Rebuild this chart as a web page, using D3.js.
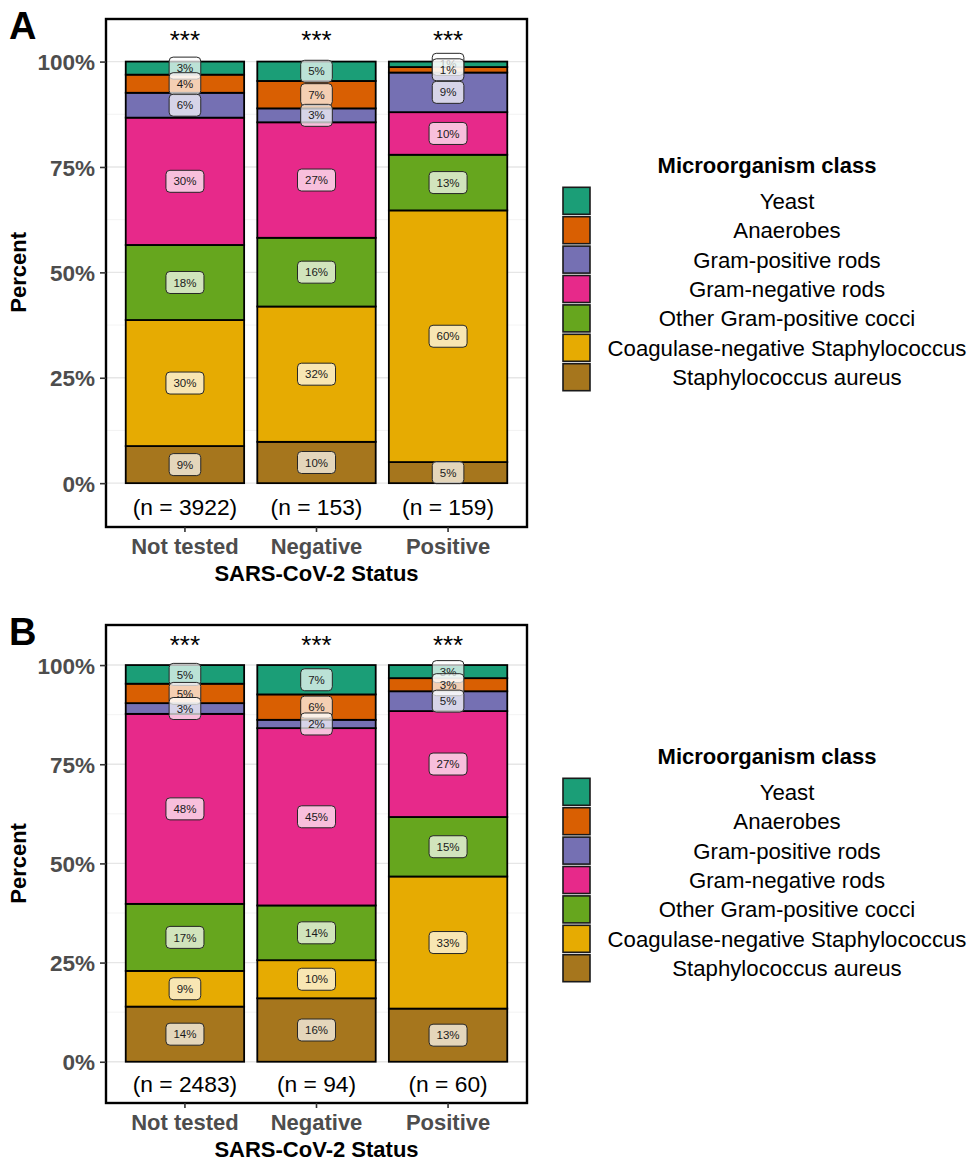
<!DOCTYPE html>
<html>
<head>
<meta charset="utf-8">
<script src="https://cdn.jsdelivr.net/npm/d3@7"></script>
<style>
  body { margin: 0; background: #fff; }
  svg { display: block; font-family: "Liberation Sans", Arial, Helvetica, sans-serif; }
</style>
</head>
<body>
<svg id="chart" width="972" height="1162"></svg>
<script>
// ---- data ----
const statuses = ["Not tested", "Negative", "Positive"];
const organismClasses = [
  "Yeast",
  "Anaerobes",
  "Gram-positive rods",
  "Gram-negative rods",
  "Other Gram-positive cocci",
  "Coagulase-negative Staphylococcus",
  "Staphylococcus aureus"
];
const classColors = ["#1B9E77", "#D95F02", "#7570B3", "#E7298A", "#66A61E", "#E6AB02", "#A6761D"];
const yTickValues = [0, 0.25, 0.5, 0.75, 1];
const yTickLabels = ["0%", "25%", "50%", "75%", "100%"];

// Panel A: percent of isolates per class, by SARS-CoV-2 status
const yeastA     = [3.1, 4.6, 1.3];
const anaerobesA = [4.3, 6.5, 1.3];
const gprA       = [5.9, 3.3, 9.4];
const gnrA       = [30.2, 27.4, 10.1];
const ogpcA      = [17.8, 16.3, 13.2];
const consA      = [29.9, 32.1, 59.7];
const aureusA    = [8.8, 9.8, 5.0];
const countsA    = [3922, 153, 159];
const signifA    = ["***", "***", "***"];

// Panel B
const yeastB     = [4.7, 7.4, 3.3];
const anaerobesB = [4.9, 6.4, 3.3];
const gprB       = [2.7, 2.1, 5.0];
const gnrB       = [47.9, 44.7, 26.7];
const ogpcB      = [16.9, 13.8, 15.0];
const consB      = [9.0, 9.6, 33.3];
const aureusB    = [13.9, 16.0, 13.4];
const countsB    = [2483, 94, 60];
const signifB    = ["***", "***", "***"];

const panels = [
  { letter: "A", values: [yeastA, anaerobesA, gprA, gnrA, ogpcA, consA, aureusA],
    counts: countsA, signif: signifA, top: 19, bottom: 527 },
  { letter: "B", values: [yeastB, anaerobesB, gprB, gnrB, ogpcB, consB, aureusB],
    counts: countsB, signif: signifB, top: 625, bottom: 1103 }
];

// ---- drawing ----
const svg = d3.select("#chart");
const color = d3.scaleOrdinal().domain(organismClasses).range(classColors);
const plotLeft = 106, plotRight = 527;

function drawPanel(p) {
  const g = svg.append("g");
  const x = d3.scaleBand().domain(statuses).range([plotLeft, plotRight])
    .paddingInner(0.1).paddingOuter(0.15);
  const y = d3.scaleLinear().domain([-0.104, 1.101]).range([p.bottom, p.top]);

  // grid
  const minor = [0.125, 0.375, 0.625, 0.875];
  g.selectAll(".minor").data(minor).join("line")
    .attr("x1", plotLeft).attr("x2", plotRight)
    .attr("y1", d => y(d)).attr("y2", d => y(d))
    .attr("stroke", "#f0f0f0").attr("stroke-width", 0.8);
  g.selectAll(".major").data(yTickValues).join("line")
    .attr("x1", plotLeft).attr("x2", plotRight)
    .attr("y1", d => y(d)).attr("y2", d => y(d))
    .attr("stroke", "#e6e6e6").attr("stroke-width", 1.4);

  // stacked bars
  const rows = statuses.map((s, i) => {
    const r = { status: s };
    organismClasses.forEach((c, k) => { r[c] = p.values[k][i] / 100; });
    return r;
  });
  const series = d3.stack().keys(organismClasses.slice().reverse())(rows);

  g.selectAll(".layer").data(series).join("g")
    .attr("fill", d => color(d.key))
    .selectAll("rect").data(d => d).join("rect")
      .attr("x", d => x(d.data.status))
      .attr("width", x.bandwidth())
      .attr("y", d => y(d[1]))
      .attr("height", d => y(d[0]) - y(d[1]))
      .attr("stroke", "#000").attr("stroke-width", 1.8);

  // value labels, drawn from the top class down
  const labelLayer = g.append("g");
  series.slice().reverse().forEach(layer => {
    layer.forEach(d => {
      const v = d[1] - d[0];
      const cx = x(d.data.status) + x.bandwidth() / 2;
      const cy = y((d[0] + d[1]) / 2);
      const lg = labelLayer.append("g").attr("transform", `translate(${cx},${cy})`);
      const rect = lg.append("rect");
      const t = lg.append("text")
        .attr("text-anchor", "middle").attr("dy", "0.36em")
        .attr("font-size", 11.5).attr("fill", "#1a1a1a")
        .text(Math.round(v * 100) + "%");
      const w = t.node().getComputedTextLength() + 15;
      const h = 22;
      rect.attr("x", -w / 2).attr("y", -h / 2).attr("width", w).attr("height", h)
        .attr("rx", 4).attr("ry", 4)
        .attr("fill", "#fff").attr("fill-opacity", 0.7)
        .attr("stroke", "#262626").attr("stroke-width", 1);
    });
  });

  // significance marks and sample sizes
  g.selectAll(".sig").data(statuses).join("text")
    .attr("x", d => x(d) + x.bandwidth() / 2).attr("y", y(1.063))
    .attr("dy", "0.55em").attr("text-anchor", "middle")
    .attr("font-size", 26).attr("fill", "#000")
    .text((d, i) => p.signif[i]);
  g.selectAll(".n").data(statuses).join("text")
    .attr("x", d => x(d) + x.bandwidth() / 2).attr("y", y(-0.055))
    .attr("dy", "0.36em").attr("text-anchor", "middle")
    .attr("font-size", 22.8).attr("fill", "#000")
    .text((d, i) => `(n = ${p.counts[i]})`);

  // frame
  g.append("rect")
    .attr("x", plotLeft).attr("y", p.top)
    .attr("width", plotRight - plotLeft).attr("height", p.bottom - p.top)
    .attr("fill", "none").attr("stroke", "#000").attr("stroke-width", 2.4);

  // axes
  const ya = g.append("g").attr("transform", `translate(${plotLeft},0)`)
    .call(d3.axisLeft(y).tickValues(yTickValues)
      .tickFormat((d, i) => yTickLabels[i]).tickSize(6).tickPadding(5));
  ya.select(".domain").remove();
  ya.selectAll("line").attr("stroke", "#333").attr("stroke-width", 1.6);
  ya.selectAll("text").attr("font-size", 22.5).attr("font-weight", "bold")
    .attr("fill", "#4d4d4d").attr("font-family", null).attr("dy", "0.36em");

  const xa = g.append("g").attr("transform", `translate(0,${p.bottom})`)
    .call(d3.axisBottom(x).tickSize(5).tickPadding(6));
  xa.select(".domain").remove();
  xa.selectAll("line").attr("stroke", "#333").attr("stroke-width", 1.6);
  xa.selectAll("text").attr("font-size", 22).attr("font-weight", "bold")
    .attr("fill", "#4d4d4d").attr("font-family", null);

  // titles
  g.append("text")
    .attr("x", (plotLeft + plotRight) / 2).attr("y", p.bottom + 54)
    .attr("text-anchor", "middle").attr("font-size", 22).attr("font-weight", "bold")
    .text("SARS-CoV-2 Status");
  const midY = (y(0) + y(1)) / 2;
  g.append("text")
    .attr("transform", `translate(26,${midY}) rotate(-90)`)
    .attr("text-anchor", "middle").attr("font-size", 22).attr("font-weight", "bold")
    .text("Percent");
  g.append("text")
    .attr("x", 9).attr("y", p.top + 20)
    .attr("font-size", 38).attr("font-weight", "bold")
    .text(p.letter);

  // legend
  const keySize = 27, keyPitch = 29.4;
  const keysTop = (p.top + p.bottom) / 2 + 16 - (keyPitch * 6 + keySize) / 2;
  const lg = g.append("g");
  lg.append("text")
    .attr("x", 767).attr("y", keysTop - 22.5).attr("dy", "0.36em")
    .attr("text-anchor", "middle").attr("font-size", 22).attr("font-weight", "bold")
    .text("Microorganism class");
  const items = lg.selectAll(".item").data(organismClasses).join("g")
    .attr("transform", (d, i) => `translate(563,${keysTop + i * keyPitch})`);
  items.append("rect")
    .attr("width", keySize).attr("height", keySize)
    .attr("fill", d => color(d)).attr("stroke", "#1a1a1a").attr("stroke-width", 1.6);
  items.append("text")
    .attr("x", 787 - 563).attr("y", keySize / 2).attr("dy", "0.36em")
    .attr("text-anchor", "middle").attr("font-size", 22.2).attr("fill", "#000")
    .text(d => d);
}

panels.forEach(drawPanel);
</script>
</body>
</html>
